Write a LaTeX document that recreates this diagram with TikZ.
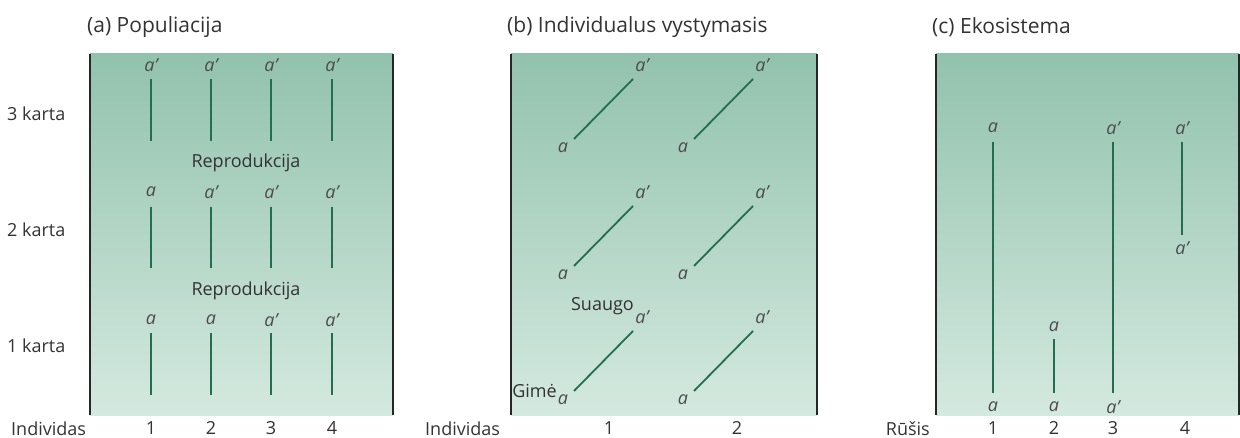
\documentclass[tikz,border=0pt]{standalone}
\usepackage{fontspec}
\setmainfont{Open Sans}
\begin{document}
\begin{tikzpicture}[x=1pt,y=-1pt,
  title/.style={font=\fontsize{21}{24}\selectfont, anchor=west, text=black!80, inner sep=0pt},
  lab/.style={font=\fontsize{18}{20}\selectfont, text=black!80, inner sep=0pt},
  al/.style={font=\fontsize{18}{20}\selectfont\itshape, text=black!70, inner sep=0pt},
  life/.style={line width=1.8pt, draw={rgb,255:red,35;green,110;blue,80}},
  wall/.style={draw=black!85, line width=1.3pt},
  bg/.style={top color={rgb,255:red,146;green,194;blue,174}, bottom color={rgb,255:red,212;green,233;blue,223}, draw=none}
]
\useasboundingbox (0,0) rectangle (1240,438);
% backgrounds
\shade[bg] (90,54) rectangle (393,415);
\shade[bg] (511,54) rectangle (817,415);
\shade[bg] (936,54) rectangle (1239,415);
\draw[wall] (90,54) -- (90,415);
\draw[wall] (393,54) -- (393,415);
\draw[wall] (511,54) -- (511,415);
\draw[wall] (817,54) -- (817,415);
\draw[wall] (936,54) -- (936,415);
\draw[wall] (1239,54) -- (1239,415);
% titles
\node[title] (ta) at (87,27) {(a) Populiacija};
\node[title] (tb) at (507,27) {(b) Individualus vystymasis};
\node[title] (tc) at (932,27) {(c) Ekosistema};
% ---------- panel a ----------
\node[lab, anchor=west] (k3) at (7,114) {3 karta};
\node[lab, anchor=west] (k2) at (7,230) {2 karta};
\node[lab, anchor=west] (k1) at (7,346) {1 karta};
\node[lab, anchor=west] (inda) at (11,429) {Individas};
\node[lab] (r1) at (246,163) {Reprodukcija};
\node[lab] (r2) at (246,291) {Reprodukcija};
\foreach \x/\n/\la/\lb/\lc in {151/1/a'/a/a, 211/2/a'/a'/a, 271/3/a'/a'/a', 332/4/a'/a'/a'}{
  \node[al] (a3\n) at (\x,65) {\la};
  \node[al] (a2\n) at (\x,192) {\lb};
  \node[al] (a1\n) at (\x,320) {\lc};
  \coordinate (p3t\n) at (\x,79); \coordinate (p3b\n) at (\x,141);
  \coordinate (p2t\n) at (\x,207); \coordinate (p2b\n) at (\x,268);
  \coordinate (p1t\n) at (\x,333); \coordinate (p1b\n) at (\x,395);
  \draw[life] (p3t\n) -- (p3b\n);
  \draw[life] (p2t\n) -- (p2b\n);
  \draw[life] (p1t\n) -- (p1b\n);
  \node[lab] (na\n) at (\x,428) {\n};
}
% ---------- panel b ----------
\node[lab, anchor=west] (indb) at (425,429) {Individas};
\foreach \dx/\c in {0/1,120/2}{
  \foreach \dy/\r in {0/3,127/2,252/1}{
    \node[al] (bs\c\r) at ({563+\dx},{148+\dy}) {a};
    \node[al] (be\c\r) at ({642+\dx},{65+\dy}) {a'};
    \coordinate (bl\c\r) at ({574+\dx},{139+\dy});
    \coordinate (bu\c\r) at ({633+\dx},{79+\dy});
    \draw[life] (bl\c\r) -- (bu\c\r);
  }
}
\node[lab] (nb1) at (609,428) {1};
\node[lab] (nb2) at (737,428) {2};
\node[lab, anchor=east] (sua) at (634,306) {Suaugo};
\node[lab, anchor=east] (gim) at (557,391) {Gimė};
% ---------- panel c ----------
\node[lab, anchor=east] (rus) at (930,429) {Rūšis};
\node[al] (c1t) at (993,128) {a};
\node[al] (c1b) at (993,407) {a};
\draw[life] (993,142) coordinate (c1u) -- (993,393) coordinate (c1d);
\node[al] (c2t) at (1054,327) {a};
\node[al] (c2b) at (1054,407) {a};
\draw[life] (1054,339) coordinate (c2u) -- (1054,393) coordinate (c2d);
\node[al] (c3t) at (1113,128) {a'};
\node[al] (c3b) at (1113,407) {a'};
\draw[life] (1113,142) coordinate (c3u) -- (1113,393) coordinate (c3d);
\node[al] (c4t) at (1182,128) {a'};
\node[al] (c4b) at (1182,248) {a'};
\draw[life] (1182,142) coordinate (c4u) -- (1182,235) coordinate (c4d);
\node[lab] (nc1) at (993,428) {1};
\node[lab] (nc2) at (1054,428) {2};
\node[lab] (nc3) at (1113,428) {3};
\node[lab] (nc4) at (1185,428) {4};
\end{tikzpicture}
\end{document}
